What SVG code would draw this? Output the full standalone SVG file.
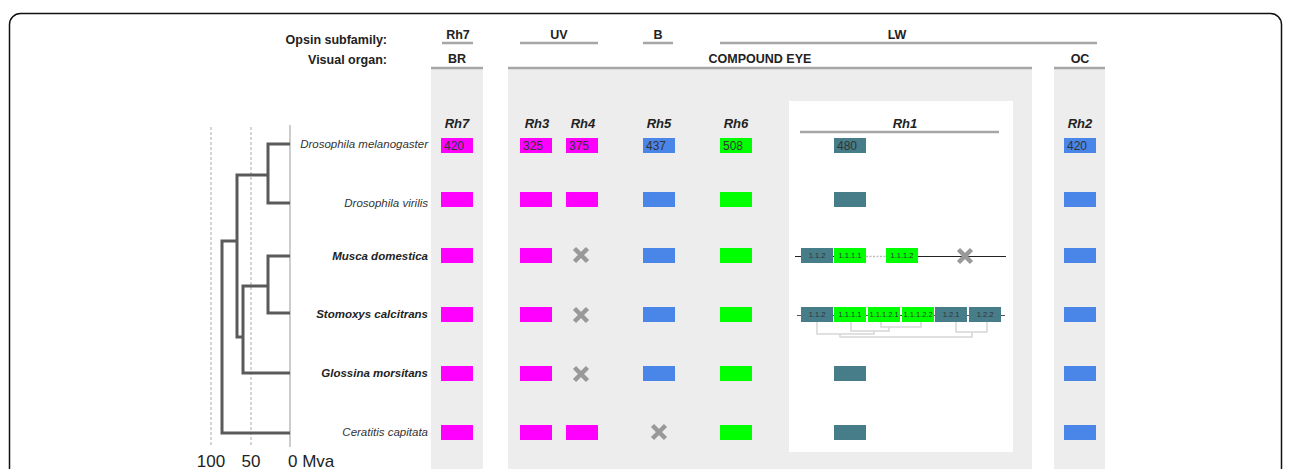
<svg xmlns="http://www.w3.org/2000/svg" width="1292" height="469" viewBox="0 0 1292 469">
<style>
text{font-family:"Liberation Sans",Arial,sans-serif;fill:#222}
.hd{font-size:12.5px;font-weight:bold}
.col{font-size:13px;font-weight:bold;font-style:italic}
.sp{font-size:11.5px;font-style:italic;fill:#333}
.spb{font-size:11.5px;font-style:italic;font-weight:bold;fill:#222}
.val{font-size:12px;fill:#333}
.sm{font-size:7.5px;fill:#333;text-anchor:middle}
.hl{stroke:#a6a6a6;stroke-width:2.5;fill:none}
.band{fill:#ededed}
.m{fill:#ff00ff}
.b{fill:#4a86e8}
.g{fill:#00ff00}
.t{fill:#477c89}
.x{stroke:#999;stroke-width:4.5;fill:none}
.tree{stroke:#5a5a5a;stroke-width:3;fill:none}
.br{stroke:#d6d6d6;stroke-width:1.5;fill:none}
.ax{font-size:17px;fill:#222}
</style>
<defs>
<rect id="bx" width="32" height="15"/>
<path id="xx" d="M-6.5,-6.5L6.5,6.5M6.5,-6.5L-6.5,6.5"/>
</defs>
<rect x="0" y="0" width="1292" height="469" fill="#fff"/>
<rect x="9.5" y="13.5" width="1272" height="480" rx="11" fill="none" stroke="#111" stroke-width="1.5"/>
<g id="header">
<text class="hd" x="387" y="44" text-anchor="end">Opsin subfamily:</text>
<text class="hd" x="387" y="64" text-anchor="end">Visual organ:</text>
<text class="hd" x="458" y="39" text-anchor="middle">Rh7</text>
<line class="hl" x1="442" y1="43" x2="473" y2="43"/>
<text class="hd" x="559" y="39" text-anchor="middle">UV</text>
<line class="hl" x1="520" y1="43" x2="598" y2="43"/>
<text class="hd" x="658" y="39" text-anchor="middle">B</text>
<line class="hl" x1="643" y1="43" x2="673" y2="43"/>
<text class="hd" x="897" y="39" text-anchor="middle">LW</text>
<line class="hl" x1="720" y1="43" x2="1097" y2="43"/>
<text class="hd" x="457" y="63" text-anchor="middle">BR</text>
<text class="hd" x="760" y="63" text-anchor="middle">COMPOUND EYE</text>
<text class="hd" x="1080" y="63" text-anchor="middle">OC</text>
</g>
<g id="bands">
<rect class="band" x="431" y="68" width="52" height="401"/>
<rect class="band" x="508" y="68" width="524" height="401"/>
<rect class="band" x="1054" y="68" width="51" height="401"/>
<rect x="789" y="101" width="224" height="351" fill="#fff"/>
<line class="hl" x1="431" y1="68" x2="483" y2="68"/>
<line class="hl" x1="508" y1="68" x2="1032" y2="68"/>
<line class="hl" x1="1054" y1="68" x2="1105" y2="68"/>
</g>
<g id="columns">
<text class="col" x="457" y="128" text-anchor="middle">Rh7</text>
<text class="col" x="537" y="128" text-anchor="middle">Rh3</text>
<text class="col" x="583" y="128" text-anchor="middle">Rh4</text>
<text class="col" x="659" y="128" text-anchor="middle">Rh5</text>
<text class="col" x="736" y="128" text-anchor="middle">Rh6</text>
<text class="col" x="905" y="128" text-anchor="middle">Rh1</text>
<line class="hl" x1="800" y1="132" x2="999" y2="132"/>
<text class="col" x="1080" y="128" text-anchor="middle">Rh2</text>
</g>
<g id="scale">
<line x1="211" y1="127" x2="211" y2="447" stroke="#aaa" stroke-width="1" stroke-dasharray="3,2"/>
<line x1="251" y1="127" x2="251" y2="447" stroke="#aaa" stroke-width="1" stroke-dasharray="3,2"/>
<line x1="290" y1="125" x2="290" y2="447" stroke="#bbb" stroke-width="1.5"/>
<text class="ax" x="211" y="467" text-anchor="middle">100</text>
<text class="ax" x="251" y="467" text-anchor="middle">50</text>
<text class="ax" x="288" y="467">0 Mva</text>
</g>
<g id="connectors">
<path class="tree" d="M290,144H268V203H290M268,175H237V337H243M290,256H268V313H290M268,286H243V373H290M237,241H222V433H290"/>
</g>
<g id="row-dmel">
<text class="sp" x="428" y="148" text-anchor="end">Drosophila melanogaster</text>
<use href="#bx" class="m" x="441" y="138"/><text class="val" x="444" y="150">420</text>
<use href="#bx" class="m" x="520" y="138"/><text class="val" x="523" y="150">325</text>
<use href="#bx" class="m" x="566" y="138"/><text class="val" x="569" y="150">375</text>
<use href="#bx" class="b" x="643" y="138"/><text class="val" x="646" y="150">437</text>
<use href="#bx" class="g" x="720" y="138"/><text class="val" x="723" y="150">508</text>
<use href="#bx" class="t" x="834" y="138"/><text class="val" x="837" y="150">480</text>
<use href="#bx" class="b" x="1064" y="138"/><text class="val" x="1067" y="150">420</text>
</g>
<g id="row-dvir">
<text class="sp" x="428" y="207" text-anchor="end">Drosophila virilis</text>
<use href="#bx" class="m" x="441" y="192"/>
<use href="#bx" class="m" x="520" y="192"/>
<use href="#bx" class="m" x="566" y="192"/>
<use href="#bx" class="b" x="643" y="192"/>
<use href="#bx" class="g" x="720" y="192"/>
<use href="#bx" class="t" x="834" y="192"/>
<use href="#bx" class="b" x="1064" y="192"/>
</g>
<g id="row-musca">
<text class="spb" x="428" y="260" text-anchor="end">Musca domestica</text>
<use href="#bx" class="m" x="441" y="248"/>
<use href="#bx" class="m" x="520" y="248"/>
<use href="#xx" class="x" x="581" y="255"/>
<use href="#bx" class="b" x="643" y="248"/>
<use href="#bx" class="g" x="720" y="248"/>
<line x1="795" y1="256.5" x2="866" y2="256.5" stroke="#222" stroke-width="1"/>
<line x1="866" y1="256.5" x2="886" y2="256.5" stroke="#bbb" stroke-width="1.5" stroke-dasharray="2,1.5"/>
<line x1="886" y1="256.5" x2="1006" y2="256.5" stroke="#222" stroke-width="1"/>
<use href="#bx" class="t" x="801" y="248"/><text class="sm" x="817" y="258">1.1.2</text>
<use href="#bx" class="g" x="834" y="248"/><text class="sm" x="850" y="258">1.1.1.1</text>
<use href="#bx" class="g" x="886" y="248"/><text class="sm" x="902" y="258">1.1.1.2</text>
<use href="#xx" class="x" x="965" y="256"/>
<use href="#bx" class="b" x="1064" y="248"/>
</g>
<g id="row-stomoxys">
<text class="spb" x="428" y="318" text-anchor="end">Stomoxys calcitrans</text>
<use href="#bx" class="m" x="441" y="307"/>
<use href="#bx" class="m" x="520" y="307"/>
<use href="#xx" class="x" x="581" y="315"/>
<use href="#bx" class="b" x="643" y="307"/>
<use href="#bx" class="g" x="720" y="307"/>
<line x1="797" y1="315.5" x2="1005" y2="315.5" stroke="#555" stroke-width="1"/>
<use href="#bx" class="t" x="801" y="307"/><text class="sm" x="817" y="317">1.1.2</text>
<use href="#bx" class="g" x="834" y="307"/><text class="sm" x="850" y="317">1.1.1.1</text>
<use href="#bx" class="g" x="868" y="307"/><text class="sm" x="884" y="317">1.1.1.2.1</text>
<use href="#bx" class="g" x="902" y="307"/><text class="sm" x="918" y="317">1.1.1.2.2</text>
<use href="#bx" class="t" x="935" y="307"/><text class="sm" x="951" y="317">1.2.1</text>
<use href="#bx" class="t" x="969" y="307"/><text class="sm" x="985" y="317">1.2.2</text>
<path class="br" d="M817,322V334H874V331M851,322V331H889V327M881,322V327H921V322M956,322V332H987V322M840,334V337H972V332"/>
<use href="#bx" class="b" x="1064" y="307"/>
</g>
<g id="row-glossina">
<text class="spb" x="428" y="377" text-anchor="end">Glossina morsitans</text>
<use href="#bx" class="m" x="441" y="366"/>
<use href="#bx" class="m" x="520" y="366"/>
<use href="#xx" class="x" x="581" y="374"/>
<use href="#bx" class="b" x="643" y="366"/>
<use href="#bx" class="g" x="720" y="366"/>
<use href="#bx" class="t" x="834" y="366"/>
<use href="#bx" class="b" x="1064" y="366"/>
</g>
<g id="row-ceratitis">
<text class="sp" x="428" y="436" text-anchor="end">Ceratitis capitata</text>
<use href="#bx" class="m" x="441" y="425"/>
<use href="#bx" class="m" x="520" y="425"/>
<use href="#bx" class="m" x="566" y="425"/>
<use href="#xx" class="x" x="659" y="432"/>
<use href="#bx" class="g" x="720" y="425"/>
<use href="#bx" class="t" x="834" y="425"/>
<use href="#bx" class="b" x="1064" y="425"/>
</g>
</svg>
